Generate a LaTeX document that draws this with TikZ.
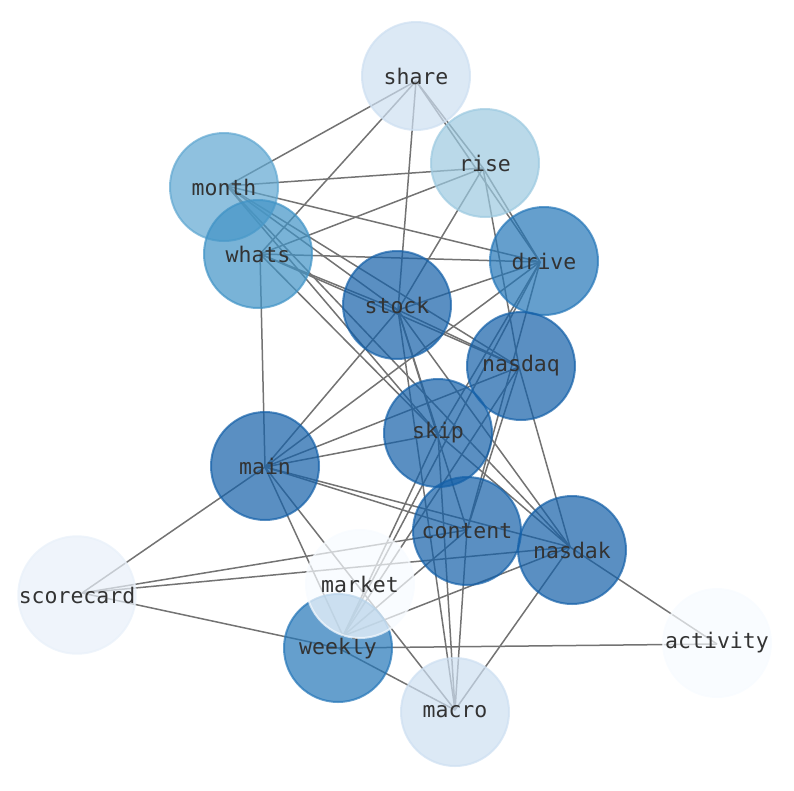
\documentclass[tikz,border=0pt]{standalone}
\usepackage{fontspec}
\setmonofont{DejaVu Sans Mono}
\pgfdeclarelayer{bg}
\pgfsetlayers{bg,main}
\definecolor{c0}{RGB}{247,251,255}
\definecolor{c1}{RGB}{232,240,249}
\definecolor{c2}{RGB}{205,223,241}
\definecolor{c4}{RGB}{156,201,224}
\definecolor{c5}{RGB}{96,167,209}
\definecolor{c6}{RGB}{64,147,198}
\definecolor{c7}{RGB}{36,118,184}
\definecolor{c8}{RGB}{20,96,168}
\tikzset{
  vtx/.style={circle, minimum size=108pt, inner sep=0pt, fill=#1, draw=#1,
    fill opacity=0.7, draw opacity=0.7, line width=2pt, text opacity=1,
    text=black!80, font=\ttfamily\fontsize{21.5}{24}\selectfont},
  lnk/.style={draw=black!55, line width=1.5pt}
}
\newcommand\mkhub[3]{\coordinate (#1-h) at ([shift={(#2,#3)}]#1.center);}
\begin{document}
\begin{tikzpicture}[x=1pt,y=-1pt]
\useasboundingbox (0,0) rectangle (794,790);
\node[vtx=c2] (share) at (416,76) {share};
\node[vtx=c4] (rise) at (485,163) {rise};
\node[vtx=c5] (month) at (224,187) {month};
\node[vtx=c6] (whats) at (258,254) {whats};
\node[vtx=c7] (drive) at (544,261) {drive};
\node[vtx=c8] (stock) at (397,305) {stock};
\node[vtx=c8] (nasdaq) at (521,366) {nasdaq};
\node[vtx=c8] (skip) at (438,433) {skip};
\node[vtx=c8] (main) at (265,466) {main};
\node[vtx=c8] (content) at (467,531) {content};
\node[vtx=c8] (nasdak) at (572,550) {nasdak};
\node[vtx=c7] (weekly) at (338,648) {weekly};
\node[vtx=c0] (market) at (360,584) {market};
\node[vtx=c1] (scorecard) at (77,595) {scorecard};
\node[vtx=c0] (activity) at (717,643) {activity};
\node[vtx=c2] (macro) at (455,712) {macro};
\mkhub{share}{0}{5}
\mkhub{rise}{-2}{5}
\mkhub{month}{3}{-1}
\mkhub{whats}{2}{0}
\mkhub{drive}{-4}{1}
\mkhub{stock}{1}{5}
\mkhub{nasdaq}{-2}{1}
\mkhub{skip}{0}{1}
\mkhub{main}{0}{1}
\mkhub{content}{0}{-1}
\mkhub{nasdak}{-2}{-3}
\mkhub{weekly}{0}{0}
\coordinate (weekly-u) at ([shift={(5,-12)}]weekly.center);
\mkhub{scorecard}{5}{-2}
\mkhub{activity}{0}{1}
\mkhub{macro}{0}{-2}
\begin{pgfonlayer}{bg}
\foreach \a/\b in {share/month, share/whats, share/stock, share/drive, share/rise,
  rise/month, rise/whats, rise/stock, rise/drive, rise/nasdaq,
  month/drive, month/stock, month/nasdaq, month/skip, month/nasdak,
  whats/drive, whats/main, whats/nasdaq, whats/stock, whats/skip,
  drive/stock, drive/main, drive/skip, drive/content,
  stock/nasdak, stock/skip, stock/content, stock/nasdaq, stock/macro,
  main/stock, main/nasdaq, main/skip, main/content, main/nasdak, main/macro, main/scorecard,
  scorecard/content, scorecard/nasdak, scorecard/weekly,
  weekly/activity, weekly/macro,
  nasdak/activity, nasdak/macro, nasdak/skip, nasdak/nasdaq,
  skip/macro, content/macro, nasdaq/content}
  \draw[lnk] (\a-h) -- (\b-h);
\foreach \b in {main, skip, nasdaq, drive, content, nasdak}
  \draw[lnk] (weekly-u) -- (\b-h);
\end{pgfonlayer}
\end{tikzpicture}
\end{document}
